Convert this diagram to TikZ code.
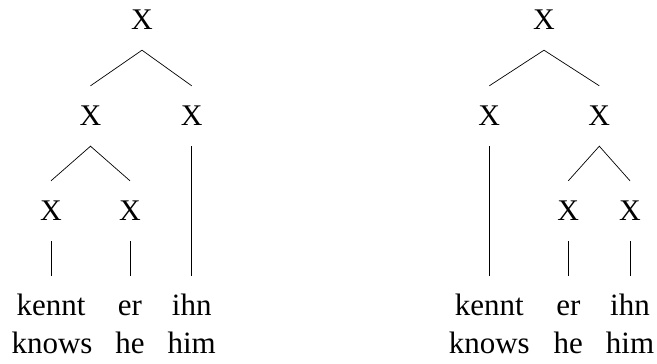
\documentclass[tikz,border=0pt]{standalone}
\usepackage{fontspec}
\setmainfont{Liberation Serif}
\begin{document}
\begin{tikzpicture}[x=1pt,y=-1pt,
  cat/.style={anchor=base,inner xsep=0pt,inner ysep=21pt,text height=18pt,text depth=0pt,font=\fontsize{30}{36}\selectfont},
  word/.style={anchor=base,inner xsep=0pt,inner ysep=21pt,text height=18pt,text depth=0pt,font=\fontsize{31}{36}\selectfont},
  gloss/.style={anchor=base,inner sep=0pt,font=\fontsize{31}{36}\selectfont},
  edge/.style={line width=0.7pt}]
\useasboundingbox (0,0) rectangle (657,364);
% left tree
\node[cat] (l0) at (142,29) {X};
\node[cat] (l1) at (90.5,125) {X};
\node[cat] (l2) at (191.7,125) {X};
\node[cat] (l3) at (51,220) {X};
\node[cat] (l4) at (130,220) {X};
\node[word] (lw1) at (51,315) {kennt};
\node[word] (lw2) at (130,315) {er};
\node[word] (lw3) at (191.7,315) {ihn};
\node[gloss] (lg1) at (52,353) {knows};
\node[gloss] (lg2) at (130,353) {he};
\node[gloss] (lg3) at (191.7,353) {him};
\draw[edge] (l1.north) -- (l0.south) -- (l2.north);
\draw[edge] (l3.north) -- (l1.south) -- (l4.north);
\draw[edge] (l2.south) -- (lw3.north);
\draw[edge] (l3.south) -- (lw1.north);
\draw[edge] (l4.south) -- (lw2.north);
% right tree
\node[cat] (r0) at (544,29) {X};
\node[cat] (r1) at (489.3,125) {X};
\node[cat] (r2) at (599.3,125) {X};
\node[cat] (r3) at (568.3,220) {X};
\node[cat] (r4) at (630,220) {X};
\node[word] (rw1) at (489.3,315) {kennt};
\node[word] (rw2) at (568.3,315) {er};
\node[word] (rw3) at (630,315) {ihn};
\node[gloss] (rg1) at (489.3,353) {knows};
\node[gloss] (rg2) at (568.3,353) {he};
\node[gloss] (rg3) at (630,353) {him};
\draw[edge] (r1.north) -- (r0.south) -- (r2.north);
\draw[edge] (r3.north) -- (r2.south) -- (r4.north);
\draw[edge] (r1.south) -- (rw1.north);
\draw[edge] (r3.south) -- (rw2.north);
\draw[edge] (r4.south) -- (rw3.north);
\end{tikzpicture}
\end{document}
